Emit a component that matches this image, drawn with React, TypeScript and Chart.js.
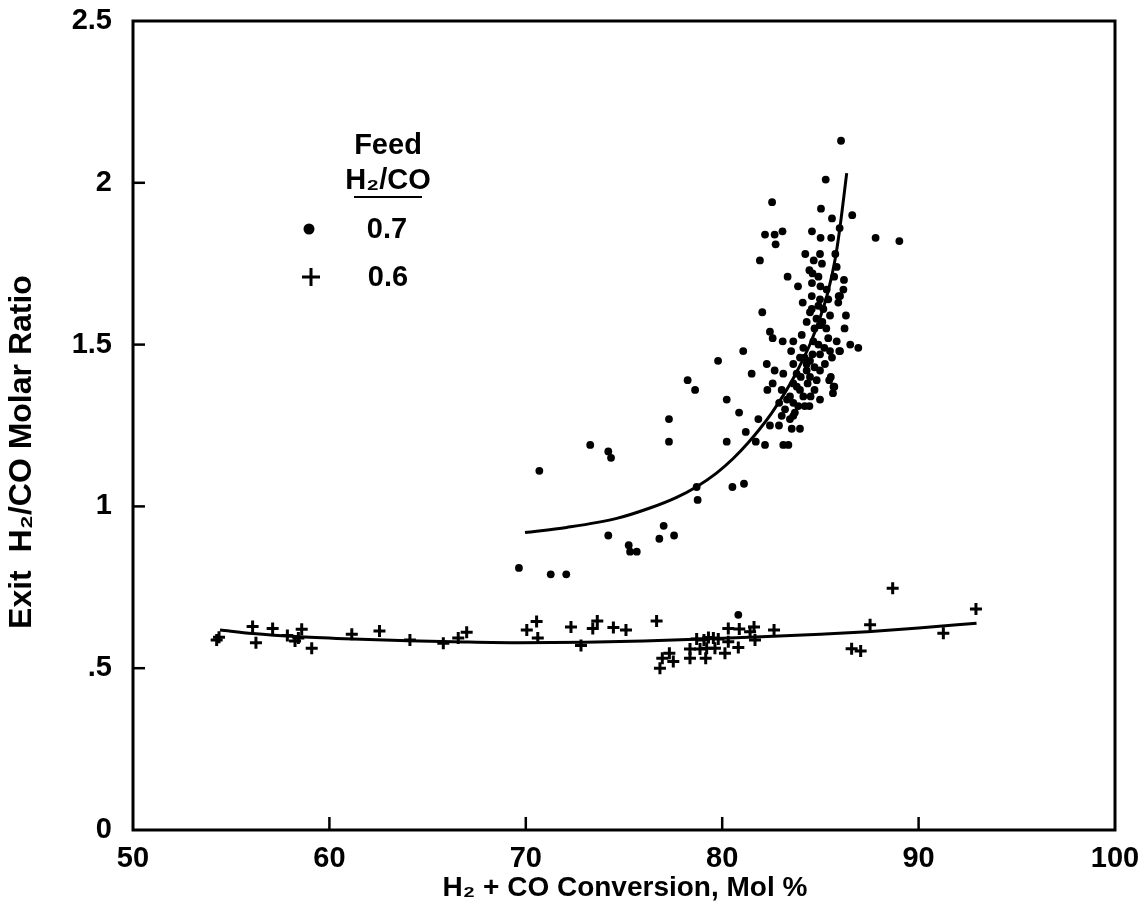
import React, { useEffect, useRef } from "react";
import { Chart, registerables } from "chart.js";

Chart.register(...registerables);

// ---- data ----
const xTickValues = [50, 60, 70, 80, 90, 100];
const yTickValues = [0, 0.5, 1, 1.5, 2, 2.5];
const yTickLabels = ["0", ".5", "1", "1.5", "2", "2.5"];
const xTickLabels = ["50", "60", "70", "80", "90", "100"];

const xTitle = "H\u2082 + CO Conversion, Mol %";
const yTitle = "Exit  H\u2082/CO Molar Ratio";
const legendTitle1 = "Feed";
const legendTitle2 = "H\u2082/CO";
const seriesNames = ["0.7", "0.6"];

// Feed H2/CO = 0.7 (dots)
const feed07X = [
  78.24, 78.62, 80.23, 80.86, 81.84, 77.29, 77.29, 80.23, 81.2, 81.71, 73.28, 74.2, 74.34, 70.69,
  80.52, 81.11, 78.7, 78.75, 77.02, 74.2, 76.8, 77.55, 75.24, 75.31, 75.65, 69.65, 71.27, 72.06,
  80.82, 79.79,
  86.05, 85.27, 82.54, 85.03, 85.59, 86.62, 85.98, 84.57, 82.18, 82.67, 83.07, 82.72, 85.01, 85.55,
  87.81, 89.02, 81.92, 84.23, 84.98, 84.66, 85.08, 85.76, 85.83, 84.44, 84.9, 83.33, 86.2, 84.57,
  83.86, 86.17, 86.0, 84.56, 84.98, 85.91, 82.04, 84.56, 85.15, 86.3, 85.49,
  84.47, 82.43, 84.3, 84.98, 86.23, 82.57, 83.08, 83.62, 84.05, 84.64, 85.4, 85.83, 86.52, 86.93,
  85.96, 83.51, 84.13, 85.49, 81.07, 84.98, 83.96, 84.47, 85.59, 82.27, 83.62, 84.3, 85.23, 84.98,
  84.3, 82.67, 81.5, 83.11, 83.79, 85.45, 84.47, 84.81, 83.62, 82.57, 85.71, 85.64, 82.3, 83.03,
  83.96, 83.45, 84.13, 84.5, 83.62, 83.87, 84.98, 84.44, 83.03, 83.62, 83.45, 82.43, 82.89, 83.54,
  83.96, 82.18, 83.11, 83.37, 85.32, 85.93, 86.0, 85.53, 85.67,
  84.7, 84.8, 85.1, 84.9, 84.6, 84.2, 84.0, 83.8, 84.35, 84.7, 85.2, 85.3, 84.9, 85.4, 84.2, 83.7,
  83.3, 84.7, 83.2, 82.9, 85.0, 85.7, 84.6, 84.1
];
const feed07Y = [
  1.39, 1.36, 1.33, 1.29, 1.27, 1.27, 1.2, 1.2, 1.23, 1.2, 1.19, 1.17, 1.15, 1.11,
  1.06, 1.07, 1.06, 1.02, 0.94, 0.91, 0.9, 0.91, 0.88, 0.86, 0.86, 0.81, 0.79, 0.79,
  0.665, 1.45,
  2.13, 2.01, 1.94, 1.92, 1.89, 1.9, 1.86, 1.85, 1.84, 1.84, 1.85, 1.81, 1.83, 1.83,
  1.83, 1.82, 1.76, 1.78, 1.78, 1.76, 1.75, 1.78, 1.74, 1.73, 1.71, 1.71, 1.7, 1.69,
  1.68, 1.67, 1.65, 1.65, 1.64, 1.63, 1.6, 1.61, 1.61, 1.59, 1.59,
  1.6, 1.54, 1.57, 1.56, 1.55, 1.52, 1.51, 1.51, 1.53, 1.51, 1.52, 1.51, 1.5, 1.49,
  1.48, 1.48, 1.49, 1.48, 1.48, 1.47, 1.46, 1.45, 1.46, 1.44, 1.44, 1.44, 1.44, 1.42,
  1.42, 1.42, 1.41, 1.41, 1.41, 1.39, 1.4, 1.39, 1.38, 1.38, 1.37, 1.35, 1.36, 1.36,
  1.36, 1.34, 1.34, 1.34, 1.32, 1.31, 1.33, 1.31, 1.28, 1.28, 1.27, 1.25, 1.25, 1.24,
  1.24, 1.19, 1.19, 1.19, 1.67, 1.65, 1.48, 1.4, 1.37,
  1.55, 1.58, 1.57, 1.5, 1.47, 1.46, 1.4, 1.37, 1.38, 1.43, 1.49, 1.55, 1.62, 1.64, 1.31, 1.29,
  1.33, 1.36, 1.3, 1.32, 1.68, 1.71, 1.72, 1.63
];

// Feed H2/CO = 0.6 (crosses)
const feed06X = [
  54.26, 54.38, 56.09, 56.26, 57.11, 57.86, 58.25, 58.42, 58.59, 59.1, 61.14, 62.55, 64.1, 65.8,
  66.56, 66.99, 70.05, 70.55, 70.61, 72.3, 72.81, 73.41, 73.64, 74.46, 75.1, 76.66, 76.83, 76.95,
  77.31, 77.51, 78.36, 78.36, 78.87, 79.16, 79.21, 79.07, 79.55, 79.63, 80.14, 80.31, 80.31, 80.82,
  80.87, 81.42, 81.62, 81.67, 82.64, 86.59, 87.05, 87.53, 88.68, 91.26, 92.92, 79.3, 79.8, 78.7
];
const feed06Y = [
  0.587, 0.596, 0.629, 0.579, 0.623, 0.601, 0.584, 0.593, 0.62, 0.562, 0.605, 0.615, 0.587, 0.577,
  0.593, 0.611, 0.618, 0.644, 0.593, 0.627, 0.57, 0.623, 0.646, 0.626, 0.618, 0.646, 0.5, 0.531,
  0.546, 0.521, 0.531, 0.559, 0.559, 0.531, 0.562, 0.587, 0.593, 0.562, 0.546, 0.582, 0.623, 0.564,
  0.621, 0.613, 0.627, 0.587, 0.618, 0.56, 0.553, 0.634, 0.747, 0.608, 0.683, 0.595, 0.59, 0.59
];

// Fitted curves
const fit07X = [69.96, 72.08, 74.63, 76.32, 77.68, 78.7, 79.71, 80.56, 81.3, 81.92, 82.5, 83.11, 83.71, 84.47, 85.0, 85.4, 85.76, 85.98, 86.34];
const fit07Y = [0.919, 0.935, 0.963, 0.995, 1.028, 1.061, 1.103, 1.148, 1.195, 1.24, 1.287, 1.343, 1.406, 1.501, 1.586, 1.666, 1.767, 1.855, 2.03];
const fit06X = [54.43, 56.1, 58.5, 61.2, 64.0, 66.3, 69.7, 73.0, 76.0, 78.9, 82.0, 85.0, 87.4, 90.0, 92.95];
const fit06Y = [0.618, 0.607, 0.597, 0.59, 0.585, 0.582, 0.579, 0.58, 0.584, 0.59, 0.597, 0.605, 0.613, 0.624, 0.639];

const FONT = "'Liberation Sans', Arial, Helvetica, sans-serif";

const toPts = (xs: number[], ys: number[]) => xs.map((x, i) => ({ x, y: ys[i] }));

const framePlugin = {
  id: "frame",
  afterDatasetsDraw(chart: any) {
    const { ctx, chartArea } = chart;
    const xs = chart.scales.x;
    const ys = chart.scales.y;
    ctx.save();
    ctx.strokeStyle = "#000";
    ctx.lineWidth = 3;
    ctx.strokeRect(chartArea.left, chartArea.top, chartArea.right - chartArea.left, chartArea.bottom - chartArea.top);
    ctx.lineWidth = 2.5;
    // inward ticks
    xTickValues.slice(1, -1).forEach((v) => {
      const px = xs.getPixelForValue(v);
      ctx.beginPath();
      ctx.moveTo(px, chartArea.bottom);
      ctx.lineTo(px, chartArea.bottom - 13);
      ctx.stroke();
    });
    yTickValues.slice(1, -1).forEach((v) => {
      const py = ys.getPixelForValue(v);
      ctx.beginPath();
      ctx.moveTo(chartArea.left, py);
      ctx.lineTo(chartArea.left + 12, py);
      ctx.stroke();
    });
    ctx.restore();
  },
};

const textPlugin = {
  id: "texts",
  afterDraw(chart: any) {
    const { ctx } = chart;
    ctx.save();
    ctx.fillStyle = "#000";
    ctx.strokeStyle = "#000";
    ctx.textAlign = "center";
    ctx.textBaseline = "middle";
    // axis titles
    ctx.font = `bold 28px ${FONT}`;
    ctx.fillText(xTitle, 625, 888);
    ctx.save();
    ctx.translate(22, 452);
    ctx.rotate(-Math.PI / 2);
    ctx.font = `bold 32px ${FONT}`;
    ctx.fillText(yTitle, 0, 0);
    ctx.restore();
    // legend
    ctx.font = `bold 29px ${FONT}`;
    ctx.fillText(legendTitle1, 388, 146);
    ctx.fillText(legendTitle2, 388, 181);
    ctx.lineWidth = 2;
    ctx.beginPath();
    ctx.moveTo(354, 197);
    ctx.lineTo(422, 197);
    ctx.stroke();
    ctx.fillText(seriesNames[0], 387, 230);
    ctx.fillText(seriesNames[1], 388, 278);
    ctx.beginPath();
    ctx.arc(309, 229, 5.5, 0, Math.PI * 2);
    ctx.fill();
    ctx.lineWidth = 3;
    ctx.beginPath();
    ctx.moveTo(302, 277);
    ctx.lineTo(320, 277);
    ctx.moveTo(311, 268);
    ctx.lineTo(311, 286);
    ctx.stroke();
    ctx.restore();
  },
};

export default function App() {
  const ref = useRef<HTMLCanvasElement>(null);
  useEffect(() => {
    if (!ref.current) return;
    const chart = new Chart(ref.current, {
      type: "scatter",
      data: {
        datasets: [
          {
            label: "fit 0.7",
            data: toPts(fit07X, fit07Y),
            showLine: true,
            borderColor: "#000",
            borderWidth: 3,
            pointRadius: 0,
            cubicInterpolationMode: "monotone",
            fill: false,
          } as any,
          {
            label: "fit 0.6",
            data: toPts(fit06X, fit06Y),
            showLine: true,
            borderColor: "#000",
            borderWidth: 3,
            pointRadius: 0,
            cubicInterpolationMode: "monotone",
            fill: false,
          } as any,
          {
            label: seriesNames[0],
            data: toPts(feed07X, feed07Y),
            pointStyle: "circle",
            pointRadius: 3.9,
            backgroundColor: "#000",
            borderColor: "#000",
            borderWidth: 0,
          },
          {
            label: seriesNames[1],
            data: toPts(feed06X, feed06Y),
            pointStyle: "cross",
            pointRadius: 6,
            borderColor: "#000",
            borderWidth: 3,
          },
        ],
      },
      options: {
        responsive: false,
        animation: false,
        events: [],
        layout: { padding: { left: 0, right: 31, top: 21, bottom: 0 } },
        plugins: { legend: { display: false }, tooltip: { enabled: false } },
        scales: {
          x: {
            type: "linear",
            min: 50,
            max: 100,
            afterFit: (s: any) => {
              s.height = 94;
              s.paddingLeft = 0;
              s.paddingRight = 0;
            },
            afterBuildTicks: (s: any) => {
              s.ticks = xTickValues.map((v) => ({ value: v }));
            },
            grid: { display: false, drawTicks: false },
            border: { display: false },
            ticks: {
              color: "#000",
              padding: 12,
              maxRotation: 0,
              font: { family: FONT, size: 29, weight: "bold" },
              callback: (v: any) => xTickLabels[xTickValues.indexOf(Number(v))] ?? "",
            },
          },
          y: {
            type: "linear",
            min: 0,
            max: 2.5,
            afterFit: (s: any) => {
              s.width = 133;
              s.paddingTop = 0;
              s.paddingBottom = 0;
            },
            afterBuildTicks: (s: any) => {
              s.ticks = yTickValues.map((v) => ({ value: v }));
            },
            grid: { display: false, drawTicks: false },
            border: { display: false },
            ticks: {
              color: "#000",
              padding: 21,
              font: { family: FONT, size: 29, weight: "bold" },
              callback: (v: any) => yTickLabels[yTickValues.indexOf(Number(v))] ?? "",
            },
          },
        },
      } as any,
      plugins: [framePlugin, textPlugin],
    });
    return () => chart.destroy();
  }, []);

  return (
    <div style={{ position: "absolute", left: 0, top: 0, width: 1146, height: 924, background: "#fff" }}>
      <canvas ref={ref} width={1146} height={924} style={{ width: 1146, height: 924, display: "block" }} />
    </div>
  );
}
